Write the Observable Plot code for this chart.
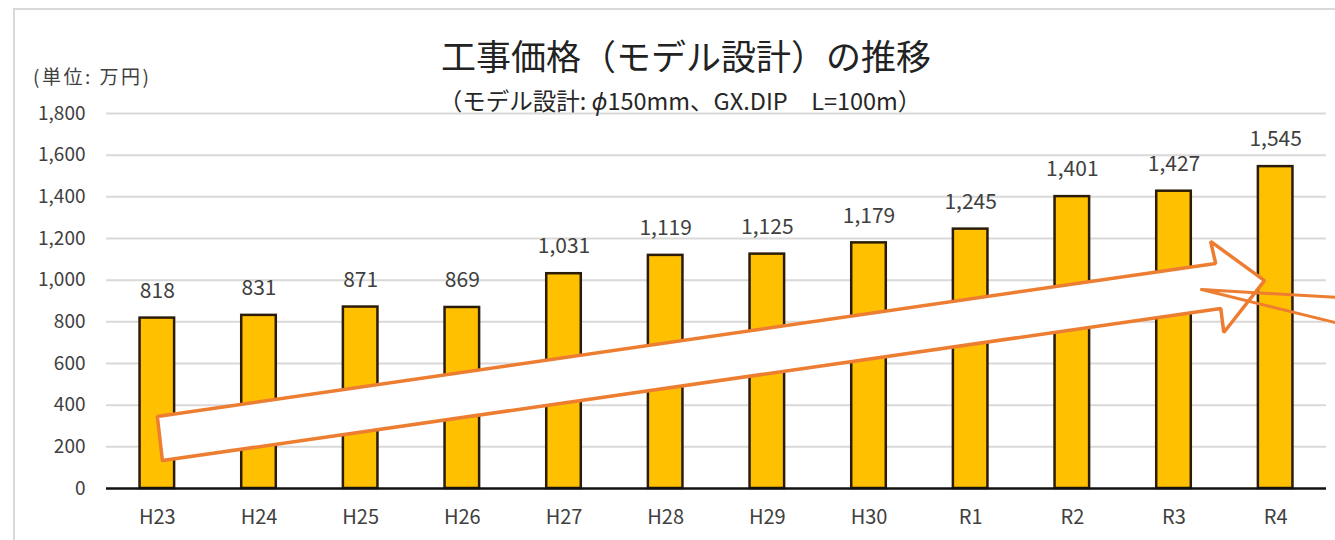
<!DOCTYPE html>
<html>
<head>
<meta charset="utf-8">
<script src="https://cdn.jsdelivr.net/npm/d3@7"></script>
<script src="https://cdn.jsdelivr.net/npm/@observablehq/plot@0.6"></script>
<style>
  html, body { margin: 0; padding: 0; background: #fff; }
  #wrap { position: relative; width: 1335px; height: 540px; overflow: hidden; font-family: "Noto Sans CJK JP", "Noto Sans", sans-serif; }
  #frame { position: absolute; left: 13px; top: 8px; width: 1340px; height: 560px; border: 2px solid #d9d9d9; box-sizing: border-box; }
  .t { position: absolute; white-space: nowrap; color: #262626; }
  #title { left: 0; width: 1372px; text-align: center; top: 33px; font-size: 35px; line-height: 44px; color: #222; }
  #subtitle { left: 0; width: 1360px; text-align: center; top: 85px; font-size: 23.5px; line-height: 30px; }
  #unit { left: 33px; top: 63px; font-size: 19px; line-height: 26px; color: #404040; letter-spacing: 2.5px; }
  #chart { position: absolute; left: 0; top: 0; }
</style>
</head>
<body>
<div id="wrap">
  <div id="frame"></div>
  <div id="chart"></div>
  <div class="t" id="title">工事価格（モデル設計）の推移</div>
  <div class="t" id="subtitle">（モデル設計: <i>ϕ</i>150mm、GX.DIP　L=100m）</div>
  <div class="t" id="unit">(単位: 万円)</div>
</div>
<script>
const years = ["H23","H24","H25","H26","H27","H28","H29","H30","R1","R2","R3","R4"];
const prices = [818, 831, 871, 869, 1031, 1119, 1125, 1179, 1245, 1401, 1427, 1545];
const yTicks = [0, 200, 400, 600, 800, 1000, 1200, 1400, 1600, 1800];

// Trend arrow outline in data coordinates (category index, value)
const arrowIdx = [0.05, 0, 10.41, 10.36, 10.89, 10.49, 10.46, 0.05];
const arrowVal = [134, 346, 1080, 1186, 998, 749, 864, 134];
// Stray wedge lines at right edge
const wedgeIdx = [11.6, 10.27, 11.6];
const wedgeVal = [917, 955, 795];

const bars = years.map((y, i) => ({i, year: y, value: prices[i]}));
const arrow = arrowIdx.map((x, k) => ({x, y: arrowVal[k]}));
const wedge = wedgeIdx.map((x, k) => ({x, y: wedgeVal[k]}));
const fmt = d3.format(",");

const chart = Plot.plot({
  width: 1335,
  height: 540,
  marginLeft: 106,
  marginRight: 9,
  marginTop: 113,
  marginBottom: 52,
  style: {fontFamily: "'Noto Sans CJK JP', 'Noto Sans', sans-serif", background: "transparent", overflow: "visible"},
  x: {type: "linear", domain: [-0.5, 11.5], axis: null},
  y: {domain: [0, 1800], axis: null},
  marks: [
    Plot.ruleY(yTicks.filter(d => d > 0), {stroke: "#d9d9d9", strokeWidth: 2}),
    Plot.axisY(yTicks, {tickSize: 0, tickPadding: 21, tickFormat: fmt, fontSize: 19, fill: "#404040", label: null}),
    Plot.rectY(bars, {x1: d => d.i - 0.17, x2: d => d.i + 0.17, y: "value", fill: "#FFC000", stroke: "#2a1c08", strokeWidth: 2.5}),
    Plot.text(bars, {x: "i", y: "value", text: d => fmt(d.value), dy: -27, fontSize: 21, fill: "#404040", style: {letterSpacing: "1px"}}),
    Plot.ruleY([0], {stroke: "#111", strokeWidth: 2.5}),
    Plot.text(bars, {x: "i", y: 0, text: "year", dy: 29, fontSize: 20, fill: "#404040"}),
    Plot.line(arrow, {x: "x", y: "y", fill: "white", stroke: "#ED7D31", strokeWidth: 3.5, strokeLinejoin: "miter", clip: false}),
    Plot.line(wedge, {x: "x", y: "y", fill: "none", stroke: "#ED7D31", strokeWidth: 3, clip: false})
  ]
});
document.getElementById("chart").appendChild(chart);
</script>
</body>
</html>
